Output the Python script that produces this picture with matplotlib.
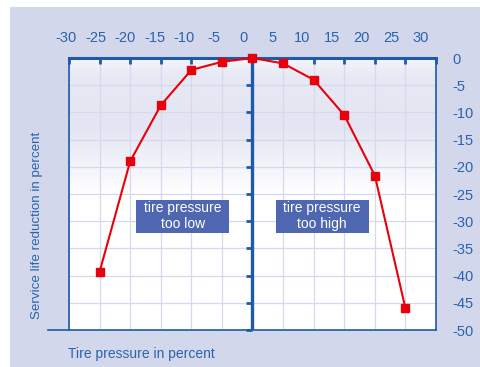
import numpy as np
import matplotlib
matplotlib.use("Agg")
import matplotlib.pyplot as plt
from matplotlib.patches import Rectangle
from matplotlib.colors import LinearSegmentedColormap

plt.rcParams["font.family"] = ["Liberation Sans", "DejaVu Sans"]
plt.rcParams["axes.unicode_minus"] = False

# tire pressure deviation (%) vs. service life reduction (%)
pressure = [-25, -20, -15, -10, -5, 0, 5, 10, 15, 20, 25]
life_reduction = [-39.3, -19.0, -8.7, -2.2, -0.7, 0.0, -1.0, -4.0, -10.5, -21.6, -46.0]

x_ticks = list(range(-30, 31, 5))
y_ticks = list(range(0, -51, -5))

BLUE = "#1d5aa8"
TEXT = "#2a63ad"
BG = "#d3d7eb"
GRID = "#d6d9ed"
RED = "#e8000c"
BOX = "#4e67b0"

fig = plt.figure(figsize=(4.8, 3.67), dpi=100, facecolor="white")
fig.patches.append(Rectangle((10 / 480, 0), 1, (367 - 7) / 367, transform=fig.transFigure,
                             facecolor=BG, edgecolor="none", zorder=-10))

ax = fig.add_axes([69 / 480, 37 / 367, 367 / 480, 272 / 367])
ax.set_xlim(-30, 30)
ax.set_ylim(-50, 0)
ax.set_facecolor("white")

# soft lavender shading at the top of the plot area
shade = LinearSegmentedColormap.from_list(
    "shade", [(0.0, "#f5f6fb"), (0.06, "#e7e9f4"), (0.25, "#e3e5f2"), (0.5, "#ffffff"), (1.0, "#ffffff")])
grad = np.linspace(0, 1, 200).reshape(-1, 1)
ax.imshow(grad, extent=[-30, 30, -50, 0], aspect="auto", cmap=shade, origin="upper", zorder=0)

for x in x_ticks:
    ax.axvline(x, color=GRID, lw=0.9, zorder=1)
for y in y_ticks:
    ax.axhline(y, color=GRID, lw=0.9, zorder=1)

# centre axis with ticks pointing left
ax.axvline(0, color=BLUE, lw=2.4, zorder=3)
for y in y_ticks[1:]:
    ax.plot([-1.0, 0], [y, y], color=BLUE, lw=2.0, zorder=3, solid_capstyle="butt", clip_on=False)

ax.plot(pressure, life_reduction, color=RED, lw=1.5, marker="s", ms=6,
        markerfacecolor=RED, markeredgecolor=RED, zorder=5, clip_on=False)

for side in ["left", "right"]:
    ax.spines[side].set_color(BLUE)
    ax.spines[side].set_linewidth(1.2)
ax.spines["top"].set_color(BLUE)
ax.spines["top"].set_linewidth(2.2)
ax.spines["bottom"].set_visible(False)

ax.set_xticks(x_ticks)
ax.tick_params(axis="x", top=True, bottom=False, labeltop=False, labelbottom=False,
               direction="in", length=4, width=2, color=BLUE)
ax.set_yticks(y_ticks)
ax.tick_params(axis="y", left=False, right=False, labelleft=False, labelright=True,
               pad=8.5, labelsize=10.5, labelcolor=TEXT)
for lbl in ax.get_yticklabels():
    lbl.set_horizontalalignment("left")

# bottom rule runs out past the left spine
ax.plot([-33.4, 30], [-50, -50], color=BLUE, lw=1.2, clip_on=False, zorder=4)

# top scale labels sit on a slightly compressed scale
for v in x_ticks:
    ax.annotate(str(v), xy=(v * 0.965 - 1.5, 1.0), xycoords=("data", "axes fraction"),
                xytext=(0, 9), textcoords="offset points", ha="center", va="bottom",
                fontsize=10.5, color=TEXT, annotation_clip=False)

# labelled boxes for the two halves
box_w, box_h = 15.2, 6.1
for cx, label in [(-11.4, "tire pressure\ntoo low"), (11.4, "tire pressure\ntoo high")]:
    cy = -29.1
    ax.add_patch(Rectangle((cx - box_w / 2, cy - box_h / 2), box_w, box_h,
                           facecolor=BOX, edgecolor="none", zorder=6))
    ax.text(cx, cy, label, ha="center", va="center", color="white",
            fontsize=10, linespacing=1.15, zorder=7)

fig.text(68 / 480, 1 - 354 / 367, "Tire pressure in percent", ha="left", va="center",
         fontsize=10, color=TEXT)
fig.text(37 / 480, 1 - 225 / 367, "Service life reduction in percent", ha="center", va="center",
         rotation=90, fontsize=9.6, color=TEXT)

fig.savefig("out.png", dpi=100, facecolor=fig.get_facecolor())
